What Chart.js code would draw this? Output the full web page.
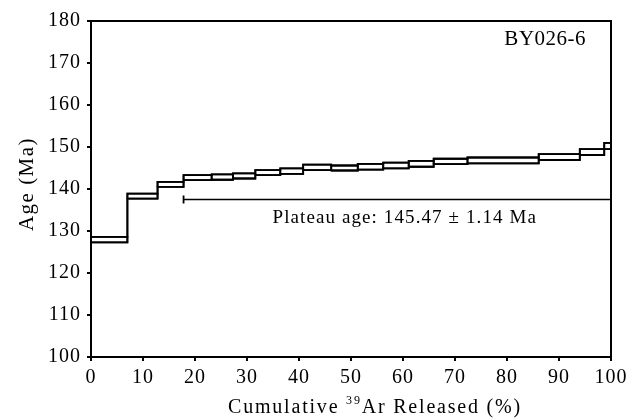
<!DOCTYPE html>
<html>
<head>
<meta charset="utf-8">
<script src="https://cdn.jsdelivr.net/npm/chart.js@4.4.1/dist/chart.umd.min.js"></script>
<style>
html, body { margin: 0; padding: 0; background: #fff; }
#wrap { width: 635px; height: 419px; }
</style>
</head>
<body>
<div id="wrap"><canvas id="chart"></canvas></div>
<script>
// step edges, cumulative 39Ar released (%)
const cumulative = [0, 7.0, 12.8, 17.8, 23.2, 27.3, 31.6, 36.4, 40.8, 46.2, 51.3, 56.2, 61.1, 65.9, 72.4, 86.1, 94.0, 98.7, 100];
// apparent age per step, upper and lower bound (Ma)
const ageHigh = [128.6, 138.9, 141.7, 143.3, 143.5, 143.7, 144.5, 144.9, 145.8, 145.6, 146.0, 146.3, 146.7, 147.2, 147.5, 148.3, 149.5, 151.0];
const ageLow  = [127.3, 137.7, 140.5, 142.1, 142.2, 142.5, 143.3, 143.6, 144.5, 144.4, 144.6, 144.9, 145.3, 145.9, 146.1, 146.9, 148.1, 149.5];
// plateau bar
const plateauRange = [17.8, 100];
const plateauAge = 137.5;
const plateauText = "Plateau age: 145.47 ± 1.14 Ma";
const sampleName = "BY026-6";
const xTicks = [0, 10, 20, 30, 40, 50, 60, 70, 80, 90, 100];
const yTicks = [100, 110, 120, 130, 140, 150, 160, 170, 180];

const SERIF = "'Liberation Serif', 'Times New Roman', serif";

const lineStyle = { showLine: true, borderColor: "#000", borderWidth: 1.8, pointRadius: 0, fill: false };

// one closed box per heating step
const datasets = [];
for (let i = 0; i < ageHigh.length; i++) {
    const x0 = cumulative[i], x1 = cumulative[i + 1];
    datasets.push(Object.assign({
        data: [
            { x: x0, y: ageLow[i] }, { x: x0, y: ageHigh[i] },
            { x: x1, y: ageHigh[i] }, { x: x1, y: ageLow[i] },
            { x: x0, y: ageLow[i] }
        ]
    }, lineStyle));
}
// upper and lower stepped outlines (vertical risers between steps)
[ageHigh, ageLow].forEach(ages => {
    const pts = ages.map((v, i) => ({ x: cumulative[i], y: v }));
    pts.push({ x: cumulative[cumulative.length - 1], y: ages[ages.length - 1] });
    datasets.push(Object.assign({ data: pts, stepped: "before" }, lineStyle));
});
// plateau line with cap on the left end
datasets.push({
    data: plateauRange.map(x => ({ x: x, y: plateauAge })),
    showLine: true,
    borderColor: "#000",
    borderWidth: 1.6,
    pointStyle: "line",
    pointRotation: 90,
    pointRadius: [4, 0],
    pointBorderWidth: 1.8,
    pointBorderColor: "#000"
});

// frame + text labels
const decor = {
    id: "decor",
    beforeDraw(chart) {
        chart.ctx.letterSpacing = "1px";
    },
    afterDraw(chart) {
        const ctx = chart.ctx;
        const a = chart.chartArea;
        const xs = chart.scales.x, ys = chart.scales.y;
        ctx.save();
        ctx.strokeStyle = "#000";
        ctx.lineWidth = 2;
        ctx.strokeRect(a.left, a.top, a.right - a.left, a.bottom - a.top);

        ctx.fillStyle = "#000";
        ctx.letterSpacing = "1.1px";
        ctx.font = "19px " + SERIF;
        ctx.textBaseline = "alphabetic";
        ctx.textAlign = "left";
        ctx.fillText(plateauText, xs.getPixelForValue(34.9), ys.getPixelForValue(132));

        ctx.letterSpacing = "0.5px";
        ctx.font = "21px " + SERIF;
        ctx.textAlign = "right";
        ctx.fillText(sampleName, xs.getPixelForValue(95.2), ys.getPixelForValue(174.3));

        // x title with superscript
        ctx.letterSpacing = "1.8px";
        ctx.textAlign = "left";
        const p1 = "Cumulative ", sup = "39", p2 = "Ar Released (%)";
        ctx.font = "20px " + SERIF;
        const w1 = ctx.measureText(p1).width, w3 = ctx.measureText(p2).width;
        ctx.font = "12px " + SERIF;
        const w2 = ctx.measureText(sup).width;
        let x = 375 - (w1 + w2 + w3) / 2;
        const base = 413;
        ctx.font = "20px " + SERIF;
        ctx.fillText(p1, x, base);
        x += w1;
        ctx.font = "12px " + SERIF;
        ctx.fillText(sup, x, base - 9);
        x += w2;
        ctx.font = "20px " + SERIF;
        ctx.fillText(p2, x, base);

        // y title
        ctx.translate(33, 184);
        ctx.rotate(-Math.PI / 2);
        ctx.textAlign = "center";
        ctx.letterSpacing = "1.5px";
        ctx.font = "21px " + SERIF;
        ctx.fillText("Age (Ma)", 0, 0);
        ctx.restore();
    }
};

new Chart(document.getElementById("chart"), {
    type: "scatter",
    data: { datasets: datasets },
    options: {
        responsive: true,
        maintainAspectRatio: false,
        animation: false,
        layout: { padding: { top: 21, right: 24, left: 0, bottom: 0 } },
        plugins: { legend: { display: false }, tooltip: { enabled: false } },
        scales: {
            x: {
                type: "linear",
                min: 0,
                max: 100,
                afterBuildTicks: s => { s.ticks = xTicks.map(v => ({ value: v })); },
                afterFit: s => { s.height = 62; },
                grid: { drawOnChartArea: false, tickLength: 4, lineWidth: 2, color: "#000" },
                border: { display: true, color: "#000", width: 2 },
                ticks: { color: "#000", padding: 5, maxRotation: 0, font: { family: SERIF, size: 20 } }
            },
            y: {
                type: "linear",
                min: 100,
                max: 180,
                afterBuildTicks: s => { s.ticks = yTicks.map(v => ({ value: v })); },
                afterFit: s => { s.width = 91; },
                grid: { drawOnChartArea: false, tickLength: 4, lineWidth: 2, color: "#000" },
                border: { display: true, color: "#000", width: 2 },
                ticks: { color: "#000", padding: 6, font: { family: SERIF, size: 20 } }
            }
        }
    },
    plugins: [decor]
});
</script>
</body>
</html>
